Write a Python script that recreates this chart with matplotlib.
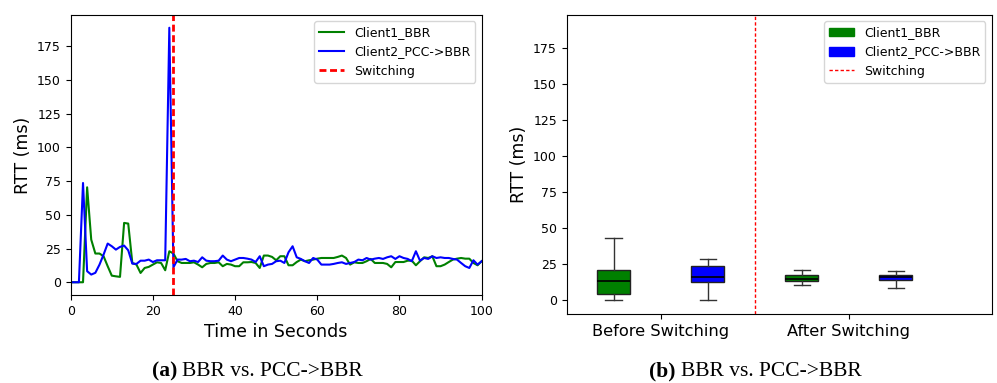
import matplotlib
matplotlib.use('Agg')
import matplotlib.pyplot as plt
import matplotlib.patches as mpatches
from matplotlib.lines import Line2D
import numpy as np

# RTT over time, one sample per second (0..100 s)
t = np.arange(0, 101)

client1_bbr = [
    0, 0, 0, 0, 70.4, 31.6, 21.3, 21.3, 19.3, 11.9,
    4.9, 4.4, 4.0, 44.0, 43.5, 14.3, 13.1, 6.9, 10.6, 11.4,
    13.1, 14.8, 14.3, 8.9, 23.0, 21.3, 15.6, 14.3, 14.3, 14.3,
    14.8, 13.1, 11.1, 13.6, 14.3, 14.3, 14.8, 11.9, 13.6, 13.1,
    11.9, 11.9, 14.8, 14.8, 15.0, 14.3, 10.6, 19.8, 19.8, 18.8,
    16.3, 19.3, 19.3, 12.6, 12.6, 15.0, 16.8, 15.6, 16.3, 16.8,
    17.5, 18.0, 18.0, 18.0, 18.0, 18.8, 19.8, 18.0, 13.1, 14.8,
    14.3, 14.3, 15.6, 17.3, 14.3, 14.3, 14.3, 13.6, 11.1, 15.0,
    15.0, 15.0, 16.0, 16.0, 12.6, 15.6, 18.5, 18.0, 19.3, 11.9,
    11.9, 13.1, 15.0, 16.8, 17.5, 18.0, 17.5, 17.5, 14.3, 12.6,
    15.6]

client2_pcc_bbr = [
    0, 0, 0, 73.6, 8.2, 5.7, 7.0, 13.0, 20.5, 28.7,
    26.7, 24.2, 26.2, 27.2, 23.7, 13.8, 13.6, 16.0, 16.0, 16.8,
    15.0, 16.3, 16.3, 16.3, 188.7, 11.1, 16.8, 16.8, 17.3, 15.6,
    16.0, 15.0, 18.5, 16.0, 15.6, 15.6, 16.0, 19.8, 16.8, 15.6,
    16.8, 18.0, 18.0, 17.5, 16.8, 15.0, 19.3, 11.9, 13.1, 13.6,
    15.6, 16.0, 14.3, 22.2, 26.7, 18.5, 17.3, 15.6, 14.3, 18.0,
    16.8, 13.1, 13.1, 13.1, 13.6, 14.3, 14.8, 13.6, 14.3, 15.0,
    16.8, 16.3, 18.0, 16.8, 17.5, 18.0, 17.3, 18.5, 19.3, 17.3,
    19.3, 18.0, 17.3, 15.6, 23.0, 16.0, 18.0, 17.3, 19.3, 18.0,
    18.5, 18.0, 18.0, 17.3, 16.8, 14.3, 11.9, 10.6, 16.3, 13.1,
    15.6]

switch_time = 25

# box statistics (ms): whislo, q1, med, q3, whishi
groups = ['Before Switching', 'After Switching']
c1_before = [0.0, 4.4, 13.4, 21.3, 43.1]
c2_before = [0.0, 12.7, 16.2, 23.8, 28.6]
c1_after = [10.4, 13.4, 15.0, 17.3, 21.3]
c2_after = [8.5, 14.1, 15.9, 17.8, 20.6]

fig = plt.figure(figsize=(9.97, 3.83), dpi=100)

# ---- (a) time series
ax = fig.add_axes([0.0709, 0.2298, 0.4122, 0.7310])
ax.plot(t, client1_bbr, color='green', linewidth=1.5, label='Client1_BBR')
ax.plot(t, client2_pcc_bbr, color='blue', linewidth=1.5, label='Client2_PCC->BBR')
ax.axvline(switch_time, color='red', linestyle='--', dashes=(2.5, 1.3),
           linewidth=2, label='Switching')
ax.set_xlim(0, 100)
ax.set_yticks([0, 25, 50, 75, 100, 125, 150, 175])
ax.tick_params(labelsize=9)
ax.set_xlabel('Time in Seconds', fontsize=12.5)
ax.set_ylabel('RTT (ms)', fontsize=12.5)
ax.legend(loc='upper right', fontsize=9)
ylim = ax.get_ylim()

# ---- (b) box plots
ax2 = fig.add_axes([0.5684, 0.1802, 0.4263, 0.7806])


def stats(v):
    return dict(whislo=v[0], q1=v[1], med=v[2], q3=v[3], whishi=v[4], fliers=[])


boxes = [c1_before, c2_before, c1_after, c2_after]
colors = ['green', 'blue', 'green', 'blue']
pos = [1, 2, 3, 4]
bp = ax2.bxp([stats(b) for b in boxes], positions=pos, widths=0.35,
             patch_artist=True, showfliers=False,
             medianprops=dict(color='black', linewidth=1.2),
             whiskerprops=dict(color='#333333'), capprops=dict(color='#333333'))
for patch, c in zip(bp['boxes'], colors):
    patch.set_facecolor(c)
    patch.set_edgecolor('#222222')
ax2.axvline(2.5, color='red', linestyle='--', dashes=(2.4, 1.6), linewidth=1)
ax2.set_xlim(0.5, 5.02)
ax2.set_ylim(ylim)
ax2.set_xticks([1.5, 3.5])
ax2.set_xticklabels(groups, fontsize=11.7)
ax2.set_yticks([0, 25, 50, 75, 100, 125, 150, 175])
ax2.tick_params(axis='y', labelsize=9)
ax2.set_ylabel('RTT (ms)', fontsize=12.5)
handles = [mpatches.Patch(color='green', label='Client1_BBR'),
           mpatches.Patch(color='blue', label='Client2_PCC->BBR'),
           Line2D([0], [0], color='red', linestyle='--', dashes=(2.4, 1.6),
                  linewidth=1, label='Switching')]
ax2.legend(handles=handles, loc='upper right', fontsize=9)

# captions
cap = dict(fontsize=15.5, family='Liberation Serif', va='center')
fig.text(0.1780, 0.031, '(a)', ha='right', fontweight='bold', **cap)
fig.text(0.1830, 0.031, 'BBR vs. PCC->BBR', ha='left', **cap)
fig.text(0.6775, 0.031, '(b)', ha='right', fontweight='bold', **cap)
fig.text(0.6830, 0.031, 'BBR vs. PCC->BBR', ha='left', **cap)

fig.savefig('out.png', dpi=100)
